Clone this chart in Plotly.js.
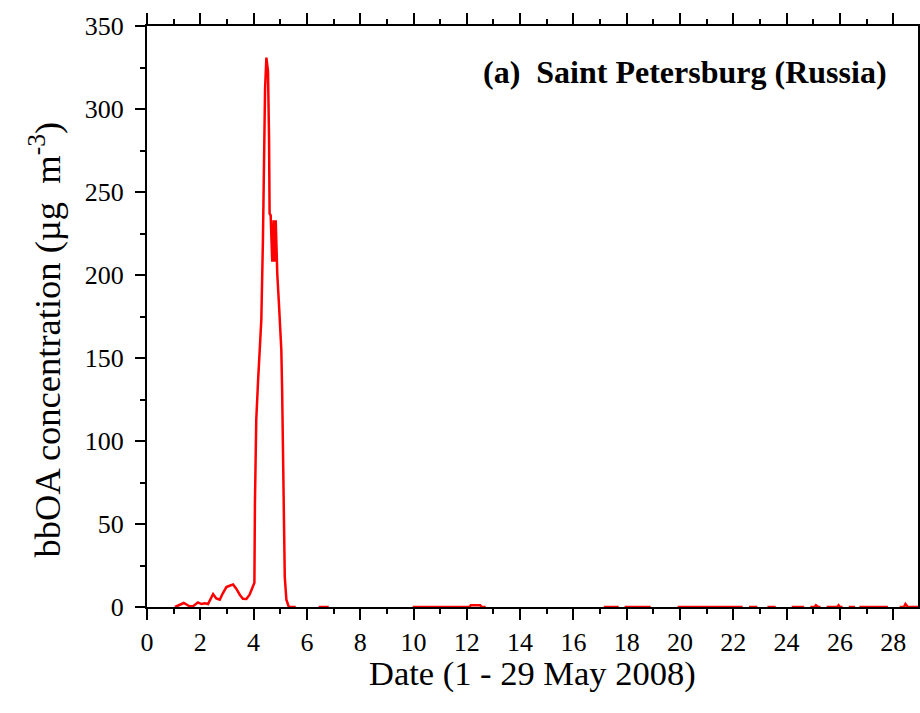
<!DOCTYPE html>
<html>
<head>
<meta charset="utf-8">
<script src="https://cdn.plot.ly/plotly-3.0.1.min.js"></script>
<style>
  html, body { margin: 0; padding: 0; background: #ffffff; }
  #chart { width: 920px; height: 713px; }
</style>
</head>
<body>
<div id="chart"></div>
<script>
// Biomass-burning organic aerosol (bbOA), Saint Petersburg, 1-29 May 2008.
// Day of month (fractional) and concentration in µg m^-3.
// null values mark periods without measurements.
const day = [
  1.05, 1.10, 1.23, 1.38, 1.48, 1.60, 1.73, 1.83, 1.91, 2.04,
  2.17, 2.29, 2.42, 2.48, 2.60, 2.73, 2.85, 2.98, 3.10, 3.23,
  3.35, 3.48, 3.60, 3.73, 3.85, 3.98, 4.03, 4.05, 4.10, 4.17,
  4.23, 4.29, 4.35, 4.39, 4.43, 4.48, 4.54, 4.58, 4.60, 4.64,
  4.67, 4.70, 4.75, 4.79, 4.83, 4.85, 4.89, 4.95, 5.00, 5.04,
  5.07, 5.10, 5.13, 5.17, 5.23, 5.32, 5.58, 5.59, 6.44, 6.82,
  6.83, 9.97, 12.10, 12.15, 12.50, 12.56, 12.71, 12.72, 17.14, 17.70,
  17.71, 17.92, 18.90, 18.91, 19.91, 22.35, 22.36, 22.59, 22.90, 22.91,
  23.28, 23.59, 23.60, 24.19, 24.66, 24.67, 24.89, 25.05, 25.10, 25.18,
  25.27, 25.28, 25.50, 25.90, 25.95, 26.00, 26.10, 26.11, 26.33, 26.57,
  26.58, 26.73, 27.80, 27.81, 28.24, 28.40, 28.46, 28.55, 28.95
];
const bboa = [
  0, 0.3, 1.4, 2.4, 1.5, 0.4, 0.5, 2.0, 2.8, 1.8,
  2.2, 1.8, 6.0, 7.8, 5.2, 4.4, 8.4, 12.0, 12.8, 13.6,
  11.0, 7.4, 5.0, 4.8, 7.4, 12.4, 14.6, 62.8, 113, 137,
  153, 173, 221, 267, 312, 331, 323, 282, 237, 236,
  219, 208, 233, 208, 233, 221, 200, 183, 165, 155,
  131, 100, 66, 18, 4.4, 0, 0, null, 0, 0,
  null, 0, 0, 1.0, 1.0, 0, 0, null, 0, 0,
  null, 0, 0, null, 0, 0, null, 0, 0, null,
  0, 0, null, 0, 0, null, 0, 0, 1.0, 0,
  0, null, 0, 0, 1.0, 0, 0, null, 0, 0,
  null, 0, 0, null, 0, 0, 1.8, 0, 0
];

// Axis ticks
const xTicks = [0, 2, 4, 6, 8, 10, 12, 14, 16, 18, 20, 22, 24, 26, 28];
const yTicks = [0, 50, 100, 150, 200, 250, 300, 350];

const serif = 'Liberation Serif, Times New Roman, serif';

const trace = {
  x: day,
  y: bboa,
  type: 'scatter',
  mode: 'lines',
  line: { color: '#ff0000', width: 2.5 },
  connectgaps: false,
  hoverinfo: 'skip'
};

const axisCommon = {
  showline: true,
  linecolor: '#000000',
  linewidth: 2,
  showgrid: false,
  zeroline: false,
  ticks: 'outside',
  tickcolor: '#000000',
  tickwidth: 2,
  ticklen: 10,
  tickfont: { family: serif, size: 26, color: '#000000' },
  layer: 'below traces'
};

const layout = {
  width: 920,
  height: 713,
  margin: { l: 147, r: 2, t: 26, b: 106 },
  paper_bgcolor: '#ffffff',
  plot_bgcolor: '#ffffff',
  showlegend: false,
  xaxis: Object.assign({}, axisCommon, {
    range: [0, 28.93],
    tickmode: 'array',
    tickvals: xTicks,
    ticktext: xTicks.map(String),
    mirror: 'ticks',
    ticklen: 11,
    minor: { dtick: 1, tick0: 0, ticks: 'outside', ticklen: 5, tickwidth: 2, tickcolor: '#000000' }
  }),
  yaxis: Object.assign({}, axisCommon, {
    range: [0, 350],
    tickmode: 'array',
    tickvals: yTicks,
    ticktext: yTicks.map(String),
    mirror: true,
    ticklabelstandoff: 6,
    minor: { dtick: 25, tick0: 0, ticks: 'outside', ticklen: 5, tickwidth: 2, tickcolor: '#000000' }
  }),
  annotations: [
    {
      text: '<b>(a)\u00a0\u00a0Saint Petersburg (Russia)</b>',
      xref: 'paper', yref: 'paper',
      x: 0.962, y: 0.92,
      xanchor: 'right', yanchor: 'middle',
      showarrow: false,
      font: { family: serif, size: 32, color: '#000000' }
    },
    {
      text: 'Date (1 - 29 May 2008)',
      xref: 'paper', yref: 'paper',
      x: 0.5, y: -0.115,
      xanchor: 'center', yanchor: 'middle',
      showarrow: false,
      font: { family: serif, size: 34.5, color: '#000000' }
    },
    {
      text: 'bbOA concentration (\u00b5g\u00a0\u00a0m<sup>-3</sup>)',
      xref: 'paper', yref: 'paper',
      x: -0.1327, y: 0.46,
      xanchor: 'center', yanchor: 'middle',
      textangle: -90,
      showarrow: false,
      font: { family: serif, size: 36.5, color: '#000000' }
    }
  ]
};

Plotly.newPlot('chart', [trace], layout, { staticPlot: true, displayModeBar: false });
</script>
</body>
</html>
